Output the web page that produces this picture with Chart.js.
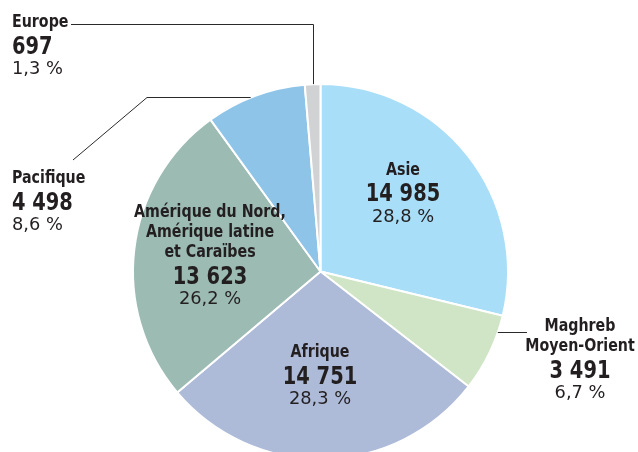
<!DOCTYPE html>
<html><head><meta charset="utf-8">
<script src="https://cdn.jsdelivr.net/npm/chart.js@4/dist/chart.umd.min.js"></script>
<style>html,body{margin:0;padding:0;background:#fff;overflow:hidden;width:638px;height:452px}canvas{display:block}</style>
</head><body>
<canvas id="c" width="638" height="480"></canvas>
<script>
// ---- data ----
const categories = [["Asie"], ["Maghreb", "Moyen-Orient"], ["Afrique"], ["Amérique du Nord,", "Amérique latine", "et Caraïbes"], ["Pacifique"], ["Europe"]];
const values = [14985, 3491, 14751, 13623, 4498, 697];
const valueLabels = ["14 985", "3 491", "14 751", "13 623", "4 498", "697"];
const percentLabels = ["28,8 %", "6,7 %", "28,3 %", "26,2 %", "8,6 %", "1,3 %"];

// ---- styles / layout ----
const colors = ["#a9def8", "#cfe5c6", "#adbbd9", "#9cbbb3", "#8fc4e9", "#d1d2d4"];
const TEXT = "#231f20";
const FONT = "'DejaVu Sans Condensed', 'Liberation Sans Narrow', sans-serif";
const labelLayout = [
  {x: 403, y: 174.5, align: "center"},
  {x: 580, y: 331, align: "center", leader: {pts: [[527, 332.5]], end: "h"}},
  {x: 320, y: 357, align: "center"},
  {x: 210, y: 217, align: "center"},
  {x: 12, y: 183, align: "left", leader: {pts: [[73, 160], [147, 97.5]], end: "h"}},
  {x: 12, y: 27, align: "left", leader: {pts: [[71, 24.5]], end: "v"}}
];

function scaledText(ctx, t, x, y, sx) {
  ctx.save();
  ctx.translate(x, y);
  ctx.scale(sx, 1);
  ctx.fillText(t, 0, 0);
  ctx.restore();
}

const labelPlugin = {
  id: "labels",
  afterDatasetsDraw(chart) {
    const ctx = chart.ctx;
    const meta = chart.getDatasetMeta(0);
    const arc0 = meta.data[0];
    const cx = arc0.x, cy = arc0.y, r = arc0.outerRadius;
    ctx.save();
    labelLayout.forEach((L, i) => {
      if (L.leader) {
        ctx.strokeStyle = "#2a2a2a";
        ctx.lineWidth = 1;
        ctx.beginPath();
        const p = L.leader.pts;
        ctx.moveTo(p[0][0], p[0][1]);
        for (let k = 1; k < p.length; k++) ctx.lineTo(p[k][0], p[k][1]);
        const last = p[p.length - 1];
        if (L.leader.end === "h") {
          const dy = last[1] - cy;
          const dx = Math.sqrt(Math.max(r * r - dy * dy, 0));
          const ex = last[0] < cx ? cx - dx : cx + dx;
          ctx.lineTo(ex, last[1]);
        } else {
          const a = meta.data[i];
          const mid = (a.startAngle + a.endAngle) / 2;
          const vx = Math.round(cx + r * Math.cos(mid)) + 0.5;
          const dx = vx - cx;
          const ey = cy - Math.sqrt(Math.max(r * r - dx * dx, 0));
          ctx.lineTo(vx, last[1]);
          ctx.lineTo(vx, ey);
        }
        ctx.stroke();
      }
      ctx.fillStyle = TEXT;
      ctx.textAlign = L.align;
      ctx.textBaseline = "alphabetic";
      const y = L.y;
      ctx.font = "bold 17px " + FONT;
      categories[i].forEach((line, k) => {
        scaledText(ctx, line, L.x, y + k * 20, 0.93);
      });
      const b0 = y + (categories[i].length - 1) * 20;
      ctx.font = "bold 24px " + FONT;
      scaledText(ctx, valueLabels[i], L.x, b0 + 26.5, 0.9);
      ctx.font = "18.5px " + FONT;
      scaledText(ctx, percentLabels[i], L.x, b0 + 47, 1.07);
    });
    ctx.restore();
  }
};

new Chart(document.getElementById("c"), {
  type: "pie",
  data: {
    labels: categories.map(c => c.join(" ")),
    datasets: [{
      data: values,
      backgroundColor: colors,
      borderColor: "#ffffff",
      borderWidth: 2
    }]
  },
  options: {
    responsive: false,
    animation: false,
    rotation: 0,
    layout: {padding: {left: 132, right: 129, top: 83, bottom: 20}},
    plugins: {legend: {display: false}, tooltip: {enabled: false}}
  },
  plugins: [labelPlugin]
});
</script>
</body></html>
